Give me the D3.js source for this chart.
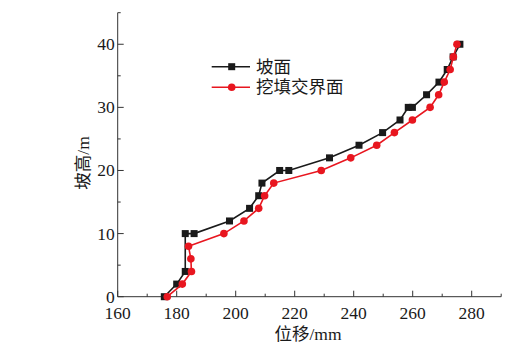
<!DOCTYPE html>
<html>
<head>
<meta charset="utf-8">
<script src="https://cdn.jsdelivr.net/npm/d3@7"></script>
<style>
  html, body { margin: 0; padding: 0; background: #fff; }
  svg { display: block; }
  text { font-family: "Liberation Serif", "Times New Roman", "Noto Sans CJK SC", serif; fill: #1a1a1a; }
</style>
</head>
<body>
<svg id="chart" width="523" height="357"></svg>
<script>
// ---- data ----
const slopeHeights = [0,2,4,10,10,12,14,16,18,20,20,22,24,26,28,30,30,32,34,36,38,40];
const slopeDisp    = [175.8,180.0,182.9,182.9,185.9,197.9,204.7,207.8,208.9,214.9,218.0,231.8,241.8,249.8,255.7,258.5,259.9,264.7,268.9,271.7,273.7,276.0];
const interfaceHeights = [0,2,4,6,8,10,12,14,16,18,20,22,24,26,28,30,32,34,36,38,40];
const interfaceDisp    = [176.8,181.9,185.0,184.8,184.0,196.0,202.8,207.8,209.8,212.9,229.0,239.0,247.8,253.8,259.9,265.9,268.8,270.7,272.7,273.8,275.0];
const seriesNames = ["坡面", "挖填交界面"];
const xTicks = [160,180,200,220,240,260,280];
const yTicks = [0,10,20,30,40];
const xLabel = "位移/mm";
const yLabel = "坡高/m";

// ---- layout ----
const svg = d3.select("#chart");
const L = 117.7, R = 501.2, T = 12.7, B = 296.7;
const x = d3.scaleLinear().domain([160, 290]).range([L, R]);
const y = d3.scaleLinear().domain([0, 45]).range([B, T]);
const axisColor = "#333";
const fontSize = 17.5;

// x axis
const gx = svg.append("g").attr("transform", `translate(0,${B})`);
gx.append("line").attr("x1", L).attr("x2", R).attr("stroke", axisColor).attr("stroke-width", 1);
d3.range(160, 291, 10).forEach(v => {
  const major = v % 20 === 0;
  gx.append("line").attr("x1", x(v)).attr("x2", x(v)).attr("y1", 0).attr("y2", major ? -6 : -3)
    .attr("stroke", axisColor).attr("stroke-width", 1);
});
gx.selectAll("text.tick").data(xTicks).enter().append("text")
  .attr("x", d => x(d)).attr("y", 22).attr("text-anchor", "middle")
  .attr("font-size", fontSize).text(d => d);

// y axis
const gy = svg.append("g");
gy.append("line").attr("x1", L).attr("x2", L).attr("y1", T).attr("y2", B).attr("stroke", axisColor).attr("stroke-width", 1);
d3.range(0, 46, 5).forEach(v => {
  const major = v % 10 === 0;
  gy.append("line").attr("x1", L).attr("x2", L + (major ? 6 : 3)).attr("y1", y(v)).attr("y2", y(v))
    .attr("stroke", axisColor).attr("stroke-width", 1);
});
gy.selectAll("text.tick").data(yTicks).enter().append("text")
  .attr("x", L - 3).attr("y", d => y(d) + 6).attr("text-anchor", "end")
  .attr("font-size", fontSize).text(d => d);

// axis titles
svg.append("text").attr("x", 308).attr("y", 340).attr("text-anchor", "middle")
  .attr("font-size", fontSize).text(xLabel);
svg.append("text").attr("transform", `translate(89,163) rotate(-90)`).attr("text-anchor", "middle")
  .attr("font-size", fontSize).text(yLabel);

// series
const blackC = "#1a1a1a", redC = "#e8161f";
const line = d3.line().x(d => x(d[0])).y(d => y(d[1]));
const s1 = slopeDisp.map((v, i) => [v, slopeHeights[i]]);
const s2 = interfaceDisp.map((v, i) => [v, interfaceHeights[i]]);

svg.append("path").attr("d", line(s1)).attr("fill", "none").attr("stroke", blackC).attr("stroke-width", 1.6);
svg.selectAll("rect.p1").data(s1).enter().append("rect")
  .attr("x", d => x(d[0]) - 3.5).attr("y", d => y(d[1]) - 3.5).attr("width", 7).attr("height", 7).attr("fill", blackC);

svg.append("path").attr("d", line(s2)).attr("fill", "none").attr("stroke", redC).attr("stroke-width", 1.6);
svg.selectAll("circle.p2").data(s2).enter().append("circle")
  .attr("cx", d => x(d[0])).attr("cy", d => y(d[1])).attr("r", 3.8).attr("fill", redC);

// legend
const lg = svg.append("g");
[[blackC, "rect"], [redC, "circle"]].forEach((s, i) => {
  const yy = 66.7 + i * 20.6;
  lg.append("line").attr("x1", 211.7).attr("x2", 250).attr("y1", yy).attr("y2", yy).attr("stroke", s[0]).attr("stroke-width", 1.6);
  if (s[1] === "rect") lg.append("rect").attr("x", 231.7 - 3.5).attr("y", yy - 3.5).attr("width", 7).attr("height", 7).attr("fill", s[0]);
  else lg.append("circle").attr("cx", 231.7).attr("cy", yy).attr("r", 3.8).attr("fill", s[0]);
  lg.append("text").attr("x", 256).attr("y", yy + 6).attr("font-size", fontSize).text(seriesNames[i]);
});
</script>
</body>
</html>
